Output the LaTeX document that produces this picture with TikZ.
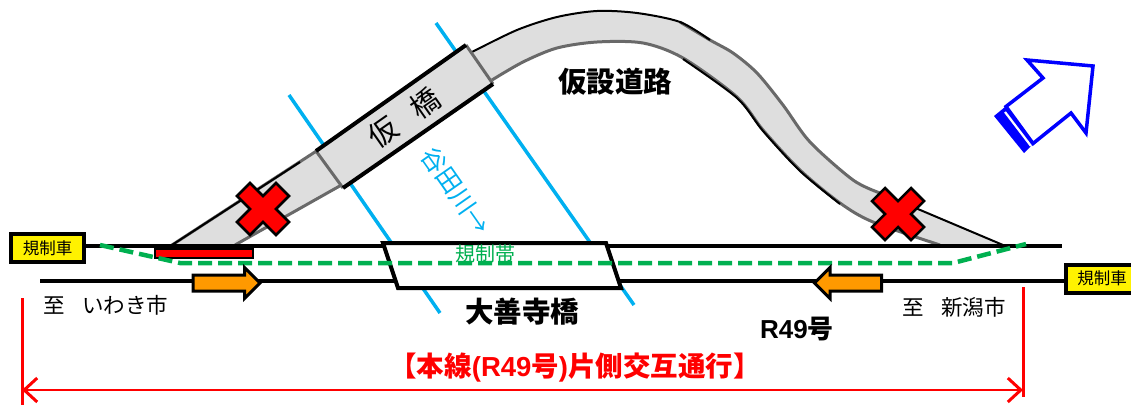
\documentclass[tikz,border=0pt]{standalone}
\usepackage{fontspec}
\setmainfont{Liberation Sans}
\newfontfamily\jpfont{Noto Sans CJK JP}
\usetikzlibrary{positioning,arrows.meta,shapes.arrows}
\definecolor{river}{RGB}{0,176,240}
\definecolor{lane}{RGB}{0,176,80}
\definecolor{roadgrey}{RGB}{222,222,222}
\definecolor{edgegrey}{RGB}{105,105,105}
\definecolor{flow}{RGB}{255,153,0}
\tikzset{%
  track/.style={draw=black, line width=4.5},
  riverline/.style={draw=river, line width=3.5},
  roadedge/.style={draw=edgegrey, line width=3},
  topedge/.style={draw=black, line width=2},
  carbox/.style={draw=black, fill=yellow, line width=4, minimum width=73, minimum height=28,
    inner sep=0, font=\jpfont\fontsize{16.5}{18}\selectfont},
  flowarrow/.style={draw=black, fill=flow, line width=3, shape=single arrow, inner xsep=0, inner ysep=6.5,
    minimum height=67, minimum width=29, single arrow head extend=7.5,
    single arrow head indent=0},
  label/.style={inner sep=0, font=\jpfont\fontsize{21.5}{24}\selectfont},
  heavy/.style={inner sep=0, font=\jpfont\bfseries\fontsize{28.5}{32}\selectfont},
  redline/.style={draw=red, line width=3},
  blueline/.style={draw=blue, line width=3.5, line join=miter}
}
\newcommand*{\closure}[1]{
  \begin{scope}[shift={(#1)}]
    \draw[fill=red, line width=2.5, line join=miter] (0,-13) -- (13,-26) -- (26,-13) -- (13,0)
      -- (26,13) -- (13,26) -- (0,13) -- (-13,26) -- (-26,13) -- (-13,0) -- (-26,-13)
      -- (-13,-26) -- cycle;
  \end{scope}}
\begin{document}
\begin{tikzpicture}[x=1pt,y=-1pt]
\useasboundingbox (0,0) rectangle (1131,405);
% river
\coordinate (r1) at (289,95);
\coordinate (r2) at (440,313);
\coordinate (r3) at (436,23);
\coordinate (r4) at (634,305);
\draw[riverline] (r1) -- (r2);
\draw[riverline] (r3) -- (r4);
% temporary road
\fill[roadgrey] (172,245) -- (318,150) -- (472,52)
  -- plot[smooth, tension=0.5] coordinates {(472,52) (517,30) (557,17) (597,11) (637,13) (680,22) (710,40) (733,53) (757,73) (783,105) (810,142) (853,180) (880,193)}
  -- (1003,245) -- (940,245)
  -- plot[smooth, tension=0.5] coordinates {(940,245) (873,222) (840,203) (800,170) (763,130) (737,97) (683,58) (643,43) (597,42) (557,48) (523,62) (492,80)}
  -- (345,183) -- (235,245) -- cycle;
\draw[roadedge] (235,245) -- (345,183);
\draw[roadedge] plot[smooth, tension=0.5] coordinates {(492,80) (523,62) (557,48) (597,42) (643,43) (683,58) (737,97) (763,130) (800,170) (840,203) (873,222) (940,245)};
\draw[roadedge] plot[smooth, tension=0.5] coordinates {(680,22) (710,40) (733,53) (757,73) (783,105) (810,142) (853,180) (880,193)};
\draw[roadedge] (172,245) -- (318,150);
\draw[topedge] (172,245) -- (300,162);
\draw[topedge] plot[smooth, tension=0.5] coordinates {(472,52) (517,30) (557,17) (597,11) (637,13) (680,22) (710,40)};
\draw[topedge] plot[smooth, tension=0.5] coordinates {(683,59) (737,98) (763,131) (800,171) (840,204)};
\draw[topedge] (880,193) -- (1003,245);
% temporary bridge
\coordinate (b1) at (316,151);
\coordinate (b2) at (466,45);
\coordinate (b3) at (493,84);
\coordinate (b4) at (343,188);
\fill[roadgrey] (b1) -- (b2) -- (b3) -- (b4) -- cycle;
\draw[roadedge] (b1) -- (b4);
\draw[roadedge] (b2) -- (b3);
\draw[line width=4] (b1) -- (b2);
\draw[line width=4] (b4) -- (b3);
\node[inner sep=0, rotate=35, font=\jpfont\fontsize{29}{32}\selectfont] (kari) at (404,118) {仮\hspace{0.75em}橋};
% main road
\coordinate (upperE) at (1062,246);
\coordinate (lowerW) at (40,281);
\node[carbox] (carL) at (47.5,248) {規制車};
\node[carbox] (carR) at (1102,278.5) {規制車};
\draw[track] (carL.east |- upperE) -- (upperE);
\draw[track] (lowerW) -- (carR.west |- lowerW);
\draw[fill=red, line width=2.5] (155,249) rectangle (253,258);
% main bridge
\coordinate (m1) at (383,243);
\coordinate (m2) at (606,243);
\coordinate (m3) at (621,288);
\coordinate (m4) at (398,288);
\draw[fill=white, line width=4, line join=miter] (m1) -- (m2) -- (m3) -- (m4) -- cycle;
% one lane
\coordinate (g1) at (100,245);
\coordinate (g2) at (180,263);
\coordinate (g3) at (953,263);
\coordinate (g4) at (1026,244);
\draw[draw=lane, line width=4.5, dash pattern=on 14 off 6] (g1) -- (g2) -- (g3) -- (g4);
\node[flowarrow] (fl1) at (222.5,283) {};
\node[flowarrow, shape border rotate=180] (fl2) at (852,283) {};
\closure{263,209}
\closure{898,214}
% direction
\fill[blue] (994,116) -- (1005,107) -- (1033,144) -- (1024,153) -- cycle;
\draw[blueline, fill=white] (1006,106.5) -- (1043,78) -- (1027,60) -- (1093,66) -- (1086,133) -- (1071,113) -- (1033,143.5) -- cycle;
\draw[draw=white, line width=2.2] (1005,112) -- (1031,146);
% labels
\node[heavy] (road) at (615,82) {仮設道路};
\node[heavy] (daizen) at (522,312) {大善寺橋};
\node[label, text=river, rotate=-55, font=\jpfont\fontsize{25}{28}\selectfont] (tani) at (456,191) {谷田川→};
\node[label, text=lane, font=\jpfont\fontsize{20}{22}\selectfont] (kisei) at (485,254) {規制帯};
\node[label] (iwaki) at (106,305) {至\hspace{0.8em}いわき市};
\node[label] (niigata) at (954,307) {至\hspace{0.8em}新潟市};
\node[inner sep=0, font=\bfseries\fontsize{26}{30}\selectfont] (r49) at (797,329) {R49{\jpfont 号}};
\node[inner sep=0, text=red, font=\bfseries\fontsize{27.5}{30}\selectfont] (title) at (575,368) {{\jpfont 【本線}(R49{\jpfont 号})\jpfont 片側交互通行】};
% extent
\coordinate (e1) at (22,298);
\coordinate (e2) at (22,405);
\coordinate (e3) at (1023,287);
\coordinate (e4) at (1023,397);
\coordinate (d1) at (22,390);
\coordinate (d2) at (1023,390);
\draw[redline] (e1) -- (e2);
\draw[redline] (e3) -- (e4);
\draw[draw=red, line width=2, {Straight Barb[length=13,width=24,line width=3]}-{Straight Barb[length=13,width=24,line width=3]}] (d1) -- (d2);
\end{tikzpicture}
\end{document}
